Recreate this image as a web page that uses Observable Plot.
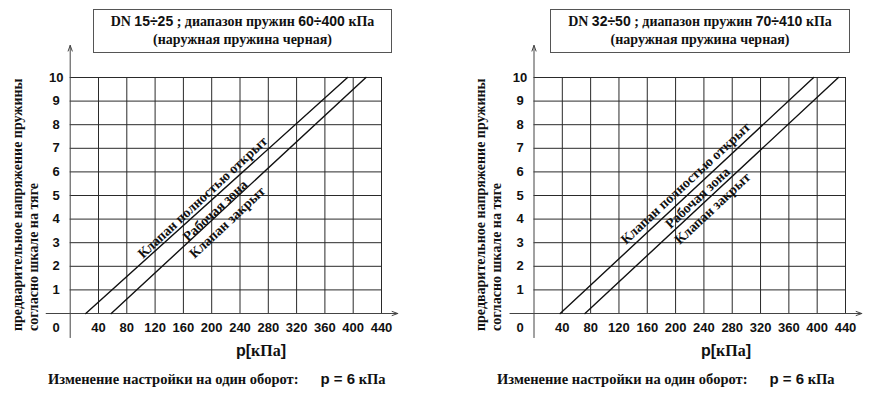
<!DOCTYPE html>
<html><head><meta charset="utf-8">
<script src="https://cdn.jsdelivr.net/npm/d3@7"></script>
<script src="https://cdn.jsdelivr.net/npm/@observablehq/plot@0.6"></script>
<style>
body{margin:0;background:#fff;}
#wrap{position:relative;width:887px;height:395px;overflow:hidden;background:#fff;}
.abs{position:absolute;white-space:nowrap;color:#111;}
.serif{font-family:"Liberation Serif","Times New Roman",serif;font-weight:bold;}
.sans{font-family:"Liberation Sans",Arial,sans-serif;font-weight:bold;}
.tbox{border:1px solid #555;box-sizing:border-box;text-align:center;font-size:14px;line-height:18px;padding-top:2px;}
.ytitle{transform:rotate(-90deg);transform-origin:left top;font-size:14px;line-height:15.5px;text-align:left;}
.xtitle{font-size:16px;transform:translate(-50%,-50%);}
.cap{font-size:14.5px;transform:translateY(-50%);}
.cap .p{font-size:15px;margin-left:22px;}
</style></head>
<body><div id="wrap"></div>
<script>
// ---- data ----
const xTicks = [40, 80, 120, 160, 200, 240, 280, 320, 360, 400, 440];
const yTicks = [1, 2, 3, 4, 5, 6, 7, 8, 9, 10];
const scaleS = [0, 10];                 // setting on the stem scale
const leftOpenP = [22, 392];            // "Клапан полностью открыт", kPa at s=0 and s=10
const leftClosedP = [58, 418];          // "Клапан закрыт"
const rightOpenP = [37, 395];
const rightClosedP = [72, 430];
const lineLabels = ["Клапан полностью открыт", "Рабочая зона", "Клапан закрыт"];
const leftLabelP = [187, 205, 222];
const leftLabelS = [4.92, 4.36, 3.86];
const rightLabelP = [214, 231, 252];
const rightLabelS = [5.52, 4.9, 4.45];
const titleDN = ["15÷25", "32÷50"];
const titleRange = ["60÷400", "70÷410"];

const SANS = "Liberation Sans, Arial, sans-serif";
const SERIF = "Liberation Serif, Times New Roman, serif";

function chart(openP, closedP, labP, labS, ml, mr, w) {
  return Plot.plot({
    width: w, height: 395,
    marginLeft: ml, marginRight: mr, marginTop: 77, marginBottom: 82,
    x: {domain: [0, 440], axis: null},
    y: {domain: [0, 10], axis: null},
    style: {background: "transparent", overflow: "visible"},
    marks: [
      Plot.ruleX(xTicks, {x: d => d, y1: 0, y2: 10, stroke: "#2a2a2a", strokeWidth: 1}),
      Plot.ruleY(yTicks, {y: d => d, x1: 0, x2: 440, stroke: "#2a2a2a", strokeWidth: 1}),
      Plot.arrow([0], {x1: -34, y1: 0, x2: 463, y2: 0, stroke: "#444", strokeWidth: 1, headLength: 9, headAngle: 40}),
      Plot.arrow([0], {x1: 0, y1: -1.02, x2: 0, y2: 11.36, stroke: "#444", strokeWidth: 1, headLength: 9, headAngle: 40}),
      Plot.line(scaleS, {x: openP, y: scaleS, stroke: "#111", strokeWidth: 1.4}),
      Plot.line(scaleS, {x: closedP, y: scaleS, stroke: "#111", strokeWidth: 1.4}),
      Plot.text(xTicks, {x: d => d, y: 0, dy: 14, text: d => String(d), fontSize: 13, fontWeight: "bold", fontFamily: SANS, fill: "#111"}),
      Plot.text(yTicks, {x: 0, y: d => d, dx: -14, text: d => String(d), fontSize: 13, fontWeight: "bold", fontFamily: SANS, fill: "#111"}),
      Plot.text([0], {x: 0, y: 0, dx: -14, dy: 14, text: d => String(d), fontSize: 13, fontWeight: "bold", fontFamily: SANS, fill: "#111"}),
      Plot.text(lineLabels, {x: labP, y: labS, text: d => d, rotate: -43, fontSize: 14, fontWeight: "bold", fontFamily: SERIF, fill: "#111"})
    ]
  });
}

const wrap = document.getElementById("wrap");
const leftSvg = chart(leftOpenP, leftClosedP, leftLabelP, leftLabelS, 69.7, 62, 443);
const rightSvg = chart(rightOpenP, rightClosedP, rightLabelP, rightLabelS, 90.5, 42, 444);
for (const [svg, left] of [[leftSvg, 0], [rightSvg, 443]]) {
  svg.style.position = "absolute";
  svg.style.left = left + "px";
  svg.style.top = "0px";
  wrap.appendChild(svg);
}

function add(html, cls, css) {
  const d = document.createElement("div");
  d.className = "abs " + cls;
  d.innerHTML = html;
  Object.assign(d.style, css);
  wrap.appendChild(d);
}
const panels = [{off: 0, box: [93, 299]}, {off: 463, box: [550, 300]}];
panels.forEach((p, i) => {
  add(`<span class="serif">DN </span><span class="sans">${titleDN[i]}</span><span class="serif"> ; диапазон пружин </span><span class="sans">${titleRange[i]}</span><span class="serif"> кПа</span><br><span class="serif">(наружная пружина черная)</span>`,
      "tbox", {left: p.box[0] + "px", top: "9px", width: p.box[1] + "px", height: "44px"});
  add(`предварительное напряжение пружины<br>согласно шкале на тяге`, "serif ytitle",
      {left: (10 + p.off) + "px", top: "331px"});
  add(`<span class="sans">p[</span><span class="serif">кПа</span><span class="sans">]</span>`, "xtitle",
      {left: (261 + p.off + (i ? 2 : 0)) + "px", top: "351px"});
  add(`<span class="serif">Изменение настройки на один оборот:</span><span class="sans p">p = 6</span><span class="serif"> кПа</span>`,
      "cap", {left: (48 + p.off + (i ? -14 : 0)) + "px", top: "379px"});
});
</script>
</body></html>
